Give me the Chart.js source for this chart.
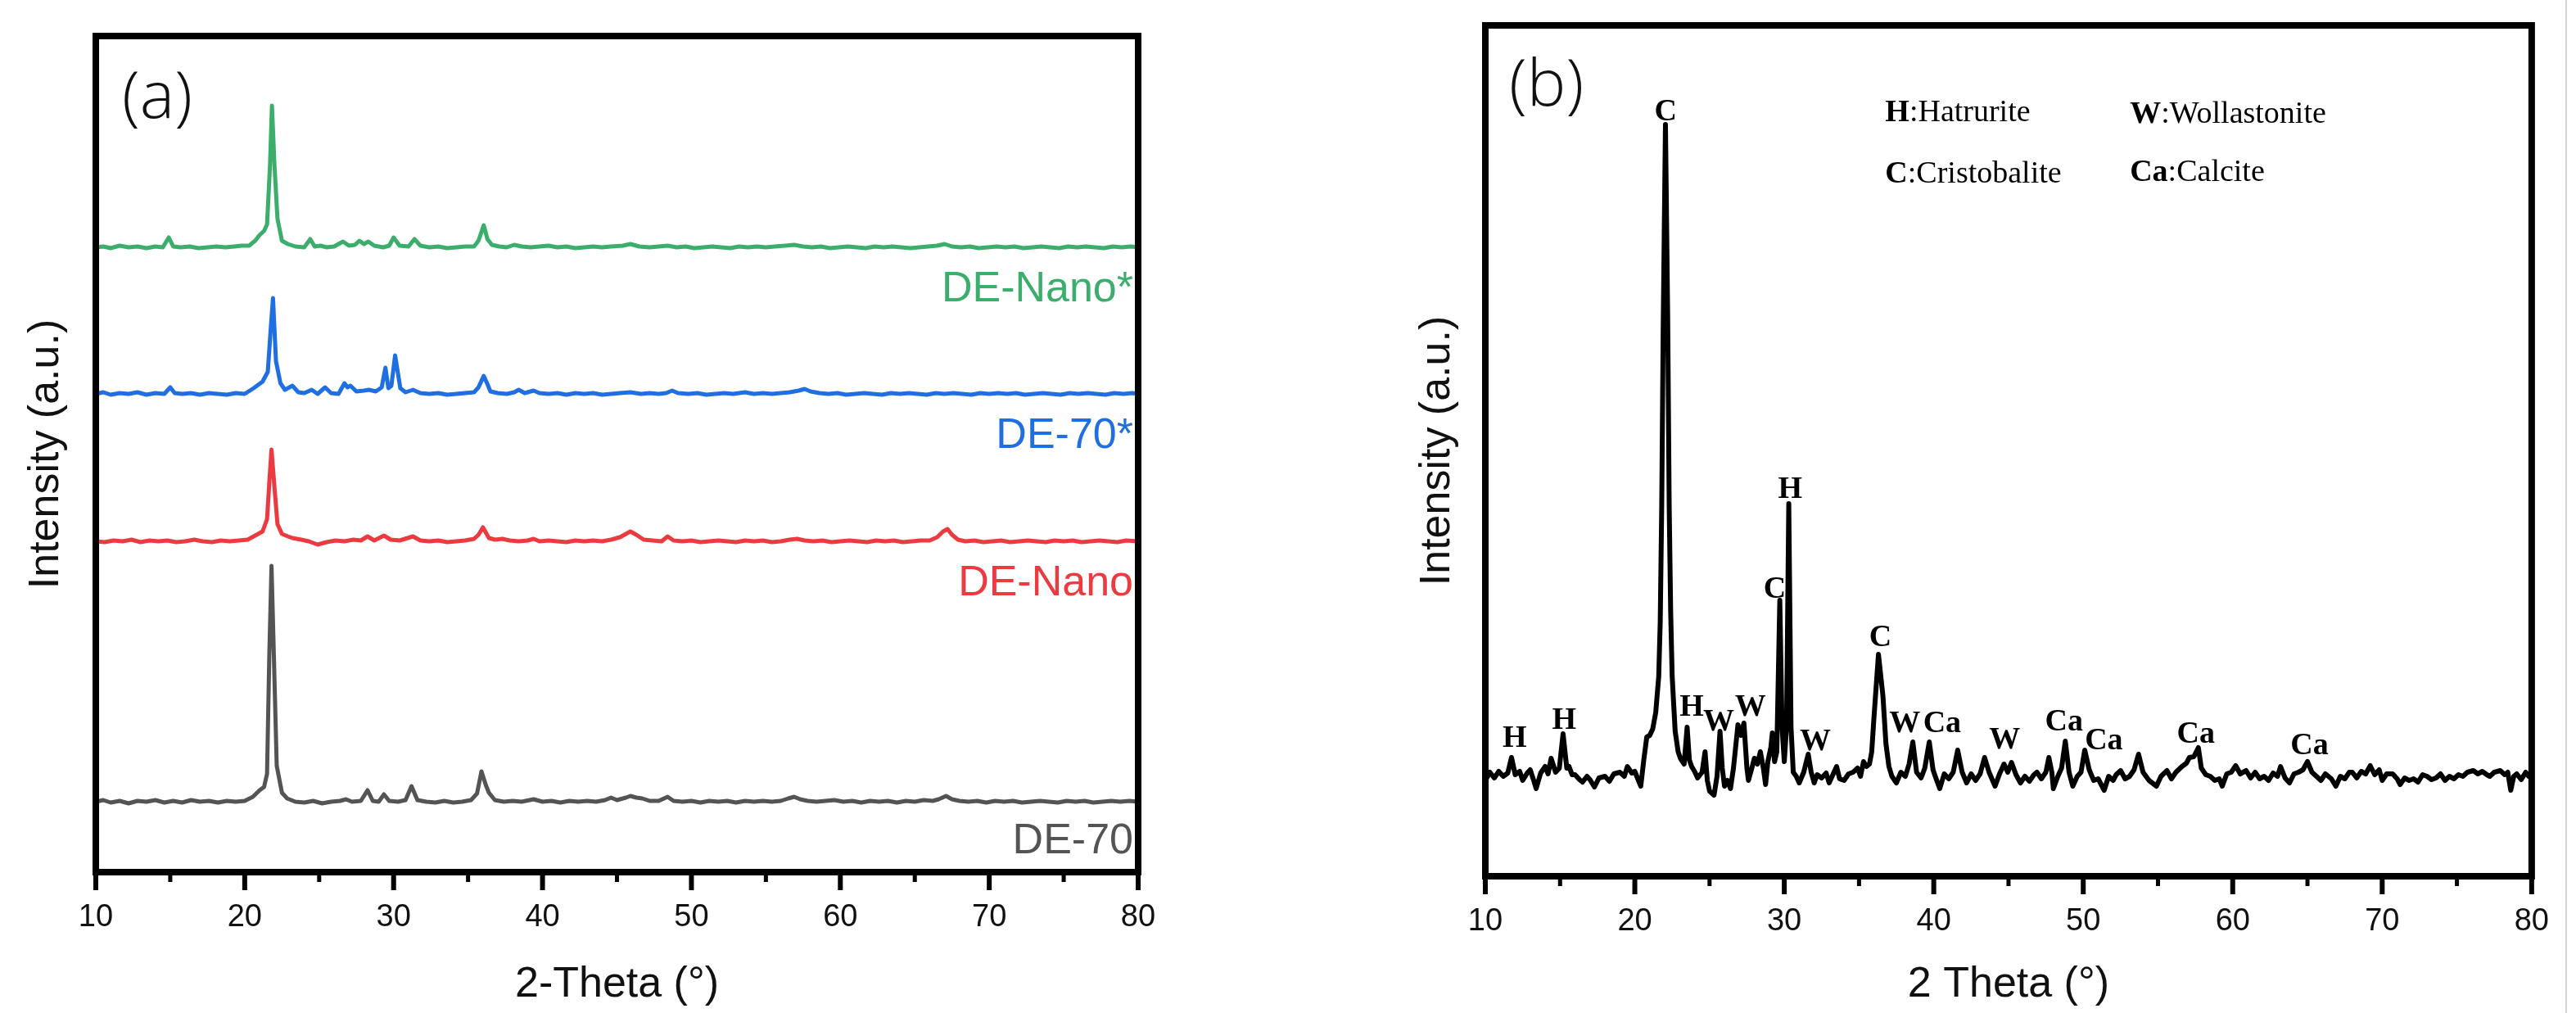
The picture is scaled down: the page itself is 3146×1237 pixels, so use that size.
<!DOCTYPE html>
<html>
<head>
<meta charset="utf-8">
<title>XRD patterns</title>
<script src="https://cdn.jsdelivr.net/npm/chart.js@4.4.1/dist/chart.umd.min.js"></script>
<style>
  html, body { margin: 0; padding: 0; background: #fff; }
  body { width: 3146px; height: 1237px; position: relative; overflow: hidden; }
  #chartA { position: absolute; left: 0; top: 0; }
  #chartB { position: absolute; left: 1680px; top: 0; }
  .edge { position: absolute; left: 3133px; top: 0; width: 2px; height: 1237px; background: #d4d4d4; }
</style>
</head>
<body>
<canvas id="chartA" width="1560" height="1237"></canvas>
<canvas id="chartB" width="1466" height="1237"></canvas>
<div class="edge"></div>
<script>
// ---- axis ticks (2-theta, degrees)
const thetaTicks = [10, 20, 30, 40, 50, 60, 70, 80];
const thetaMinor = [15, 25, 35, 45, 55, 65, 75];

// ---- panel (a): four patterns, [2theta, intensity above own baseline]
const seriesNames = ['DE-70', 'DE-Nano', 'DE-70*', 'DE-Nano*'];
const baselineOffsets = [86, 404, 584, 763];

const de70 = [
  [10,0],[10.5,2],[11,-1],[11.6,1],[12.2,-2],[12.8,1],[13.4,0],[14,2],[14.6,-1],[15.2,1],[15.8,-1],[16.4,2],
  [17,0],[17.6,1],[18.2,-1],[18.8,1],[19.4,0],[20,1],[20.55,6],[21,14],[21.3,18],[21.5,34],[21.65,177],
  [21.8,288],[21.96,177],[22.15,44],[22.5,11],[22.85,4],[23.4,0],[24,-1],[24.6,1],[25.2,-2],[25.8,0],
  [26.4,1],[26.8,3],[27.2,0],[27.8,1],[28.25,14],[28.6,1],[29,0],[29.35,9],[29.7,1],[30.3,0],[30.8,2],
  [31.2,19],[31.6,2],[32.2,0],[32.8,-1],[33.4,1],[34,-1],[34.6,0],[35.2,2],[35.6,10],[35.9,37],[36.2,20],
  [36.4,11],[36.8,2],[37.4,0],[38,1],[38.6,0],[39.4,3],[40,0],[40.6,1],[41.2,-1],[41.8,1],[42.4,0],[43,1],
  [43.6,0],[44.2,2],[44.6,5],[45,2],[45.6,5],[45.9,7],[46.3,5],[46.7,4],[47.2,1],[47.8,1],[48.4,6],[48.8,1],
  [49.4,0],[50,1],[50.6,-1],[51.2,1],[51.8,0],[52.4,1],[53,-1],[53.6,1],[54.2,0],[54.8,1],[55.4,0],[56,1],
  [56.5,4],[56.9,6],[57.3,3],[57.8,1],[58.4,0],[59,1],[59.6,2],[60.2,0],[60.8,1],[61.4,-1],[62,1],[62.6,0],
  [63.2,1],[63.8,-1],[64.4,1],[65,0],[65.6,2],[66.2,1],[66.6,3],[67.1,7],[67.5,3],[68,1],[68.6,0],[69.2,1],
  [69.8,-1],[70.4,1],[71,0],[71.6,1],[72.2,-1],[72.8,0],[73.4,1],[74,0],[74.6,-1],[75.2,1],[75.8,0],[76.4,1],
  [77,-1],[77.6,0],[78.2,1],[78.8,0],[79.4,1],[80,0]
];

const deNano = [
  [10,0],[10.6,-1],[11.2,1],[11.8,0],[12.4,2],[13,-1],[13.6,1],[14.2,0],[14.8,1],[15.4,-1],[16,0],[16.6,2],
  [17.2,0],[17.8,-1],[18.4,1],[19,0],[19.6,1],[20.2,2],[20.6,6],[21,10],[21.2,12],[21.5,27],[21.67,77],
  [21.8,112],[21.95,77],[22.2,21],[22.5,9],[22.9,6],[23.2,4],[23.8,2],[24.3,0],[24.9,-4],[25.5,-1],[26.1,1],
  [26.7,0],[27.3,2],[27.8,1],[28.25,6],[28.7,1],[29.35,7],[29.8,2],[30.4,1],[31.3,6],[31.8,1],[32.4,0],
  [33,1],[33.6,-1],[34.2,0],[34.8,1],[35.4,3],[35.7,8],[36,17],[36.4,4],[36.8,2],[37.3,3],[37.8,1],[38.4,0],
  [39,1],[39.4,3],[39.8,0],[40.4,1],[41,0],[41.6,-1],[42.2,1],[42.8,0],[43.4,1],[44,0],[44.6,2],[45.2,5],
  [45.6,9],[45.9,12],[46.3,8],[46.8,2],[47.4,1],[48,0],[48.4,6],[48.8,1],[49.4,0],[50,1],[50.6,-1],[51.2,0],
  [51.8,1],[52.4,0],[53,-1],[53.6,1],[54.2,0],[54.8,1],[55.4,-1],[56,0],[56.6,2],[57.1,3],[57.6,1],[58.2,0],
  [58.8,1],[59.4,-1],[60,0],[60.6,1],[61.2,0],[61.8,-1],[62.4,1],[63,0],[63.6,1],[64.2,-1],[64.8,0],[65.4,1],
  [66,1],[66.5,5],[66.9,12],[67.2,15],[67.5,8],[67.9,2],[68.4,0],[69,1],[69.6,-1],[70.2,0],[70.8,1],
  [71.4,-1],[72,0],[72.6,1],[73.2,0],[73.8,-1],[74.4,1],[75,0],[75.6,1],[76.2,-1],[76.8,0],[77.4,1],[78,0],
  [78.6,-1],[79.2,1],[80,0]
];

const de70Star = [
  [10,0],[10.5,2],[11,-1],[11.6,1],[12.2,0],[12.8,2],[13.4,-1],[14,1],[14.6,0],[15,8],[15.3,1],[15.8,0],
  [16.4,1],[17,-1],[17.6,1],[18.2,0],[18.8,-1],[19.4,1],[20,0],[20.6,7],[21.2,15],[21.55,27],[21.75,80],
  [21.9,117],[22.1,40],[22.4,13],[22.7,5],[23.2,10],[23.6,2],[24,1],[24.5,5],[24.9,0],[25.4,8],[25.8,1],
  [26.3,0],[26.7,13],[26.9,8],[27.1,10],[27.5,3],[28,4],[28.35,5],[28.8,3],[29.2,8],[29.45,32],[29.65,7],
  [29.85,10],[30.1,47],[30.45,7],[30.8,2],[31.3,5],[31.8,1],[32.4,0],[33,1],[33.6,-1],[34.2,0],[34.8,1],
  [35.4,2],[35.7,8],[36.05,22],[36.3,12],[36.5,3],[37,1],[37.6,0],[38.1,2],[38.4,5],[38.8,1],[39.4,4],
  [39.8,1],[40.4,0],[41,1],[41.6,-1],[42.2,1],[42.8,0],[43.4,1],[44,-1],[44.6,0],[45.2,1],[45.9,2],[46.6,0],
  [47.2,1],[47.8,0],[48.3,1],[48.7,4],[49.1,1],[49.8,0],[50.4,1],[51,-1],[51.6,0],[52.2,1],[52.8,0],[53.6,2],
  [54.2,0],[54.8,1],[55.4,0],[56,1],[56.6,2],[57.2,4],[57.6,6],[58,3],[58.6,1],[59.2,0],[59.8,1],[60.4,-1],
  [61,0],[61.6,1],[62.2,0],[62.8,-1],[63.4,1],[64,0],[64.6,1],[65.2,0],[65.8,-1],[66.4,1],[67,0],[67.6,1],
  [68.2,0],[68.8,-1],[69.4,1],[70,0],[70.6,1],[71.2,0],[71.8,1],[72.4,-1],[73,0],[73.6,1],[74.2,0],[74.8,-1],
  [75.4,1],[76,0],[76.6,1],[77.2,0],[77.8,-1],[78.4,1],[79,0],[79.6,1],[80,0]
];

const deNanoStar = [
  [10,0],[10.5,1],[11,-1],[11.6,2],[12.2,0],[12.8,1],[13.4,-1],[14,1],[14.5,0],[14.9,12],[15.2,1],[15.7,0],
  [16.3,1],[16.9,-1],[17.5,0],[18.1,1],[18.7,0],[19.3,1],[19.8,2],[20.3,2],[20.7,8],[21,15],[21.3,20],
  [21.5,28],[21.7,100],[21.83,173],[22,100],[22.2,35],[22.5,8],[22.9,4],[23.4,1],[24,0],[24.4,10],[24.7,1],
  [25.1,2],[25.5,0],[26,1],[26.6,7],[27,2],[27.4,3],[27.7,8],[28,4],[28.3,7],[28.7,2],[29.3,0],[29.7,2],
  [30,12],[30.4,2],[31,1],[31.4,10],[31.8,2],[32.4,0],[33,1],[33.6,-1],[34.2,0],[34.8,1],[35.4,1],[35.7,8],
  [36.05,27],[36.3,10],[36.6,3],[37.1,1],[37.6,0],[38.1,3],[38.6,1],[39.2,0],[39.8,1],[40.4,2],[41,0],
  [41.6,1],[42.2,-1],[42.8,0],[43.4,1],[44,0],[44.6,1],[45.4,2],[45.9,4],[46.5,1],[47.2,0],[47.8,1],[48.4,2],
  [49,0],[49.6,1],[50.2,-1],[50.8,0],[51.4,1],[52,0],[52.6,-1],[53.2,1],[53.8,0],[54.4,1],[55,0],[55.6,1],
  [56.3,2],[56.9,3],[57.5,1],[58.1,0],[58.7,1],[59.3,-1],[59.9,0],[60.5,1],[61.1,0],[61.7,-1],[62.3,1],
  [62.9,0],[63.5,1],[64.1,0],[64.7,-1],[65.3,0],[65.9,1],[66.5,2],[67,4],[67.5,1],[68.1,0],[68.7,1],[69.3,-1],
  [69.9,0],[70.5,1],[71.1,0],[71.7,1],[72.3,-1],[72.9,0],[73.5,1],[74.1,0],[74.7,-1],[75.3,1],[75.9,0],
  [76.5,1],[77.1,0],[77.7,-1],[78.3,1],[78.9,0],[79.5,1],[80,0]
];

// ---- panel (b): single pattern with phase marks
const patternOffset = 122;
const patternB = [
  [10,-5],[10.3,5],[10.6,-2],[10.9,6],[11.2,0],[11.5,4],[11.75,23],[12,2],[12.3,6],[12.5,-5],[12.8,4],[13,8],
  [13.2,-3],[13.4,-15],[13.7,4],[14,12],[14.2,3],[14.4,22],[14.7,5],[14.95,10],[15.2,52],[15.45,10],[15.6,12],
  [15.8,2],[16,2],[16.3,-4],[16.5,-7],[16.8,0],[17,-4],[17.3,-13],[17.6,-2],[18,0],[18.3,-6],[18.6,3],[19,5],
  [19.3,0],[19.5,12],[19.8,4],[20,6],[20.2,-3],[20.4,-12],[20.6,20],[20.8,48],[21,50],[21.2,58],[21.4,78],
  [21.6,122],[21.7,188],[21.8,330],[21.9,550],[22.05,796],[22.2,560],[22.3,330],[22.4,200],[22.5,122],
  [22.7,55],[22.9,30],[23.05,22],[23.3,15],[23.5,60],[23.65,20],[23.8,12],[24,6],[24.2,-2],[24.5,5],[24.7,30],
  [24.85,-5],[25,-18],[25.3,-23],[25.5,0],[25.7,55],[25.85,10],[26,-12],[26.2,-5],[26.4,-15],[26.6,10],
  [26.9,63],[27.1,50],[27.3,65],[27.5,10],[27.6,-5],[27.8,8],[28,22],[28.2,15],[28.4,30],[28.6,10],[28.75,-10],
  [28.9,18],[29.1,35],[29.2,53],[29.35,18],[29.5,30],[29.7,215],[29.85,60],[30,18],[30.15,60],[30.3,333],
  [30.45,60],[30.6,5],[30.8,0],[31,-8],[31.3,5],[31.6,27],[31.8,5],[32,-8],[32.2,2],[32.5,-2],[32.8,4],[33,-8],
  [33.2,0],[33.5,12],[33.7,-3],[34,-5],[34.3,3],[34.6,5],[34.9,10],[35.1,0],[35.3,18],[35.5,12],[35.7,15],
  [35.85,30],[36,72],[36.3,149],[36.6,98],[36.8,40],[37,12],[37.2,0],[37.5,-8],[37.8,5],[38.1,0],[38.35,15],
  [38.6,42],[38.85,5],[39.15,-2],[39.4,10],[39.7,42],[39.95,8],[40.1,0],[40.4,-15],[40.7,3],[41,-3],[41.3,5],
  [41.6,32],[41.9,5],[42.2,-8],[42.5,3],[42.8,-5],[43.1,3],[43.4,23],[43.7,5],[44.1,-12],[44.4,3],[44.7,15],
  [44.95,5],[45.2,17],[45.5,2],[45.8,-8],[46.1,0],[46.4,-6],[46.7,2],[46.9,5],[47.2,-3],[47.5,5],[47.7,23],
  [47.9,5],[48,-15],[48.3,0],[48.55,10],[48.8,43],[49.05,5],[49.3,-12],[49.6,0],[49.85,5],[50.1,32],[50.4,8],
  [50.7,-5],[51,-3],[51.4,-17],[51.7,0],[52,-5],[52.2,2],[52.5,7],[52.8,-3],[53.1,0],[53.4,8],[53.7,27],
  [54,5],[54.4,-5],[54.9,-12],[55.2,0],[55.6,7],[55.9,-3],[56.2,5],[56.6,12],[56.9,16],[57.1,23],[57.4,24],
  [57.7,35],[57.9,10],[58.2,2],[58.5,0],[58.8,-5],[59.1,-3],[59.3,-12],[59.6,3],[59.9,5],[60.2,13],[60.5,3],
  [60.9,7],[61.2,-2],[61.5,5],[61.8,-3],[62.1,0],[62.4,-5],[62.7,4],[63,0],[63.2,12],[63.5,-2],[63.8,-8],
  [64.1,3],[64.4,5],[64.7,8],[65,18],[65.3,5],[65.6,0],[65.9,-5],[66.2,3],[66.6,-3],[66.9,-12],[67.2,0],
  [67.5,-3],[67.8,5],[68,5],[68.3,-2],[68.6,6],[68.9,3],[69.2,13],[69.5,2],[69.8,8],[70,-5],[70.3,3],[70.7,3],
  [71,-3],[71.2,-10],[71.5,-2],[71.8,-5],[72.1,-3],[72.4,-7],[72.7,2],[73,0],[73.3,-4],[73.6,-2],[73.9,3],
  [74.2,-5],[74.5,0],[74.8,-3],[75.1,2],[75.4,0],[75.7,5],[76.1,7],[76.4,3],[76.7,6],[77,2],[77.2,0],[77.5,5],
  [77.9,7],[78.2,2],[78.4,5],[78.6,-17],[78.8,0],[79,3],[79.3,-4],[79.6,5],[79.8,0],[80,2]
];

// phase marks above the peaks of panel (b)
const phaseMarks     = ['H', 'H', 'C', 'H', 'W', 'W', 'C', 'H', 'W', 'C', 'W', 'Ca', 'W', 'Ca', 'Ca', 'Ca', 'Ca'];
const phaseMarkTheta = [11.96, 15.27, 22.07, 23.81, 25.61, 27.73, 29.36, 30.39, 32.08, 36.43, 38.06, 40.56, 44.75, 48.72, 51.38, 57.53, 65.14];
const phaseKeyCode   = ['H', 'C', 'W', 'Ca'];
const phaseKeyName   = ['Hatrurite', 'Cristobalite', 'Wollastonite', 'Calcite'];

// ---- styles
const seriesColors = ['#545454', '#ec3b40', '#1f6fe3', '#3bae6c'];
const SANS = '"Liberation Sans", Arial, Helvetica, sans-serif';
const SERIF = '"Liberation Serif", "Times New Roman", serif';
const THIN = '"Open Sans", "Noto Sans", sans-serif';

function toPoints(pairs, offset) {
  return pairs.map(p => ({ x: p[0], y: p[1] + offset }));
}

// frame around the plot + tick marks on the bottom axis
const framePlugin = {
  id: 'frame',
  afterDatasetsDraw(chart) {
    const { ctx, chartArea: a } = chart;
    const x = chart.scales.x;
    ctx.save();
    ctx.strokeStyle = '#000';
    ctx.lineWidth = 8;
    ctx.strokeRect(a.left, a.top, a.right - a.left, a.bottom - a.top);
    ctx.lineCap = 'butt';
    thetaTicks.forEach(v => {
      const px = x.getPixelForValue(v);
      ctx.lineWidth = 6;
      ctx.beginPath(); ctx.moveTo(px, a.bottom); ctx.lineTo(px, a.bottom + 22); ctx.stroke();
    });
    thetaMinor.forEach(v => {
      const px = x.getPixelForValue(v);
      ctx.lineWidth = 5;
      ctx.beginPath(); ctx.moveTo(px, a.bottom); ctx.lineTo(px, a.bottom + 12); ctx.stroke();
    });
    ctx.restore();
  }
};

// free text drawn in data space
const textPlugin = {
  id: 'notes',
  afterDraw(chart, args, opts) {
    const { ctx, chartArea: a } = chart;
    const x = chart.scales.x, y = chart.scales.y;
    ctx.save();
    // panel letter
    ctx.font = '300 80px ' + THIN;
    ctx.fillStyle = '#111';
    ctx.textAlign = 'left';
    ctx.textBaseline = 'alphabetic';
    ctx.fillText(opts.letter, a.left + opts.letterDx, a.top + opts.letterDy);

    (opts.right || []).forEach(t => {
      ctx.font = '52px ' + SANS;
      ctx.fillStyle = t.color;
      ctx.textAlign = 'right';
      ctx.fillText(t.text, a.right - 6, y.getPixelForValue(t.level));
    });

    (opts.marks || []).forEach(t => {
      ctx.font = 'bold 38px ' + SERIF;
      ctx.fillStyle = '#000';
      ctx.textAlign = 'center';
      ctx.fillText(t.text, x.getPixelForValue(t.at), y.getPixelForValue(t.level));
    });

    (opts.key || []).forEach(t => {
      let px = x.getPixelForValue(t.at);
      const py = y.getPixelForValue(t.level);
      ctx.textAlign = 'left';
      ctx.fillStyle = '#000';
      ctx.font = 'bold 38px ' + SERIF;
      ctx.fillText(t.code, px, py);
      px += ctx.measureText(t.code).width;
      ctx.font = '38px ' + SERIF;
      ctx.fillText(':' + t.name, px, py);
    });
    ctx.restore();
  }
};

function xAxis(title, height) {
  return {
    type: 'linear', min: 10, max: 80,
    afterBuildTicks: s => { s.ticks = thetaTicks.map(v => ({ value: v })); },
    ticks: { font: { family: SANS, size: 38 }, color: '#111', padding: 33, maxRotation: 0, autoSkip: false },
    grid: { display: false, drawTicks: false },
    border: { display: false },
    title: { display: true, text: title, color: '#111', font: { family: SANS, size: 52 }, padding: { top: 0, bottom: 3 } },
    afterFit: s => { s.height = height; }
  };
}

function yAxis(max, width, titlePad) {
  return {
    min: 0, max: max,
    ticks: { display: false },
    grid: { display: false, drawTicks: false },
    border: { display: false },
    title: { display: true, text: 'Intensity (a.u.)', color: '#111', font: { family: SANS, size: 52 }, padding: { top: titlePad, bottom: 0 } },
    afterFit: s => { s.width = width; }
  };
}

const lineStyle = { pointRadius: 0, borderWidth: 5, tension: 0, borderJoinStyle: 'round', fill: false };

// panel (a)
const seriesData = [de70, deNano, de70Star, deNanoStar];
new Chart(document.getElementById('chartA'), {
  type: 'line',
  data: {
    datasets: seriesData.map((d, i) => Object.assign({}, lineStyle, {
      label: seriesNames[i],
      data: toPoints(d, baselineOffsets[i]),
      borderColor: seriesColors[i]
    }))
  },
  options: {
    responsive: false, animation: false, devicePixelRatio: 1,
    layout: { padding: { top: 44, right: 170, bottom: 0, left: 0 } },
    scales: { x: xAxis('2-Theta (°)', 172), y: yAxis(1021, 117, 25) },
    plugins: {
      legend: { display: false }, tooltip: { enabled: false },
      notes: {
        letter: '(a)', letterDx: 32, letterDy: 100,
        right: [
          { text: seriesNames[0], color: seriesColors[0], level: 23 },
          { text: seriesNames[1], color: seriesColors[1], level: 338 },
          { text: seriesNames[2], color: seriesColors[2], level: 518 },
          { text: seriesNames[3], color: seriesColors[3], level: 697 }
        ]
      }
    }
  },
  plugins: [framePlugin, textPlugin]
});

// panel (b)
const markLevels = [158, 180, 923, 196, 178, 196, 340, 462, 154, 281, 176, 176, 156, 178, 155, 163, 149];
new Chart(document.getElementById('chartB'), {
  type: 'line',
  data: {
    datasets: [Object.assign({}, lineStyle, {
      label: 'DE',
      data: toPoints(patternB, patternOffset),
      borderColor: '#000',
      borderWidth: 6
    })]
  },
  options: {
    responsive: false, animation: false, devicePixelRatio: 1,
    layout: { padding: { top: 31, right: 45, bottom: 0, left: 0 } },
    scales: { x: xAxis('2 Theta (°)', 167), y: yAxis(1039, 134, 44) },
    plugins: {
      legend: { display: false }, tooltip: { enabled: false },
      notes: {
        letter: '(b)', letterDx: 29, letterDy: 98,
        marks: phaseMarks.map((m, i) => ({ text: m, at: phaseMarkTheta[i], level: markLevels[i] })),
        key: [
          { code: phaseKeyCode[0], name: phaseKeyName[0], at: 36.75, level: 922 },
          { code: phaseKeyCode[1], name: phaseKeyName[1], at: 36.75, level: 847 },
          { code: phaseKeyCode[2], name: phaseKeyName[2], at: 53.12, level: 920 },
          { code: phaseKeyCode[3], name: phaseKeyName[3], at: 53.12, level: 849 }
        ]
      }
    }
  },
  plugins: [framePlugin, textPlugin]
});
</script>
</body>
</html>
